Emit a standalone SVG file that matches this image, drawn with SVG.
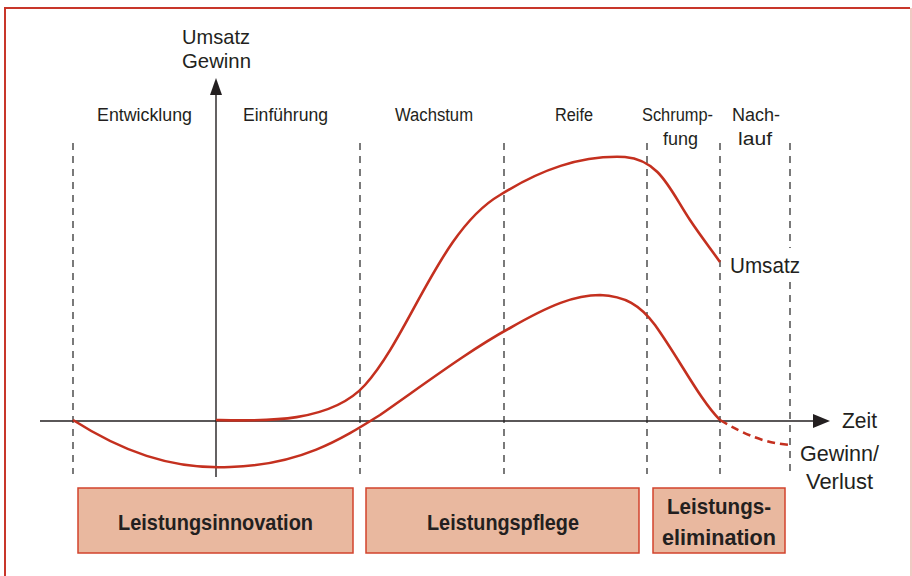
<svg xmlns="http://www.w3.org/2000/svg" width="912" height="576" viewBox="0 0 912 576">
<defs>
<style>
.t{font-family:"Liberation Sans",Arial,sans-serif;fill:#231f20}
.ph{font-size:18px}
.bx{fill:#e9b89f;stroke:#d2432d;stroke-width:1.5}
.bt{font-family:"Liberation Sans",Arial,sans-serif;font-weight:bold;font-size:22px;fill:#231f20}
.dash{stroke:#333;stroke-width:1.3;stroke-dasharray:7 6;fill:none}
.curve{stroke:#c4301f;stroke-width:2.6;fill:none}
.ax{stroke:#231f20;stroke-width:1.4;fill:none}
</style>
</defs>
<rect x="0" y="0" width="912" height="576" fill="#fff"/>
<path d="M911,8 V580" stroke="#ebb8b0" stroke-width="1.5" fill="none"/>
<path d="M5,580 V8 H910" stroke="#c8362a" stroke-width="2" fill="none"/>
<g id="guides">
<line class="dash" x1="73" y1="143" x2="73" y2="474"/>
<line class="dash" x1="360" y1="143" x2="360" y2="474"/>
<line class="dash" x1="504" y1="143" x2="504" y2="474"/>
<line class="dash" x1="647" y1="143" x2="647" y2="474"/>
<line class="dash" x1="720" y1="143" x2="720" y2="474"/>
<line class="dash" x1="790" y1="143" x2="790" y2="248"/>
<line class="dash" x1="790" y1="282" x2="790" y2="474"/>
</g>
<g id="axes">
<line class="ax" x1="216" y1="477" x2="216" y2="92"/>
<polygon points="216,78 210,95 222,95" fill="#231f20"/>
<line class="ax" x1="40" y1="421" x2="816" y2="421"/>
<polygon points="830,421 813,414 813,428" fill="#231f20"/>
</g>
<g id="curves">
<path id="umsatz" class="curve" d="M216,420 C260,421 330,424 365,385 C410,335 440,230 500,195 C540,170 580,155 625,157 C660,160 670,190 690,220 C700,235 710,248 720,262"/>
<path id="gewinn" class="curve" d="M73,420 C120,450 170,470 230,467 C300,465 340,440 380,415 C430,380 470,350 510,328 C550,305 575,295 600,295 C625,296 640,305 655,325 C680,360 700,400 720,420"/>
<path class="curve" d="M720,420 C745,435 765,443 790,445" stroke-dasharray="8 5"/>
</g>
<g id="labels">
<text class="t" x="182" y="44" font-size="21" textLength="68" lengthAdjust="spacingAndGlyphs">Umsatz</text>
<text class="t" x="182" y="68" font-size="21" textLength="69" lengthAdjust="spacingAndGlyphs">Gewinn</text>
<text class="t ph" x="97" y="121" textLength="95" lengthAdjust="spacingAndGlyphs">Entwicklung</text>
<text class="t ph" x="243" y="121" textLength="85" lengthAdjust="spacingAndGlyphs">Einführung</text>
<text class="t ph" x="395" y="121" textLength="78" lengthAdjust="spacingAndGlyphs">Wachstum</text>
<text class="t ph" x="555" y="121" textLength="38" lengthAdjust="spacingAndGlyphs">Reife</text>
<text class="t ph" x="642" y="121" textLength="71" lengthAdjust="spacingAndGlyphs">Schrump-</text>
<text class="t ph" x="663" y="145" textLength="35" lengthAdjust="spacingAndGlyphs">fung</text>
<text class="t ph" x="732" y="121" textLength="48" lengthAdjust="spacingAndGlyphs">Nach-</text>
<text class="t ph" x="738" y="145" textLength="34" lengthAdjust="spacingAndGlyphs">lauf</text>
<text class="t" x="730" y="273" font-size="22" textLength="70" lengthAdjust="spacingAndGlyphs">Umsatz</text>
<text class="t" x="842" y="428" font-size="22" textLength="35" lengthAdjust="spacingAndGlyphs">Zeit</text>
<text class="t" x="800" y="461" font-size="22" textLength="79" lengthAdjust="spacingAndGlyphs">Gewinn/</text>
<text class="t" x="806" y="489" font-size="22" textLength="67" lengthAdjust="spacingAndGlyphs">Verlust</text>
</g>
<g id="box-innovation">
<rect class="bx" x="78" y="488" width="275" height="65"/>
<text class="bt" x="118" y="530" textLength="195" lengthAdjust="spacingAndGlyphs">Leistungsinnovation</text>
</g>
<g id="box-pflege">
<rect class="bx" x="366" y="488" width="273" height="65"/>
<text class="bt" x="427" y="530" textLength="152" lengthAdjust="spacingAndGlyphs">Leistungspflege</text>
</g>
<g id="box-elimination">
<rect class="bx" x="653" y="488" width="132" height="65"/>
<text class="bt" x="667" y="514" textLength="104" lengthAdjust="spacingAndGlyphs">Leistungs-</text>
<text class="bt" x="662" y="545" textLength="114" lengthAdjust="spacingAndGlyphs">elimination</text>
</g>
</svg>
